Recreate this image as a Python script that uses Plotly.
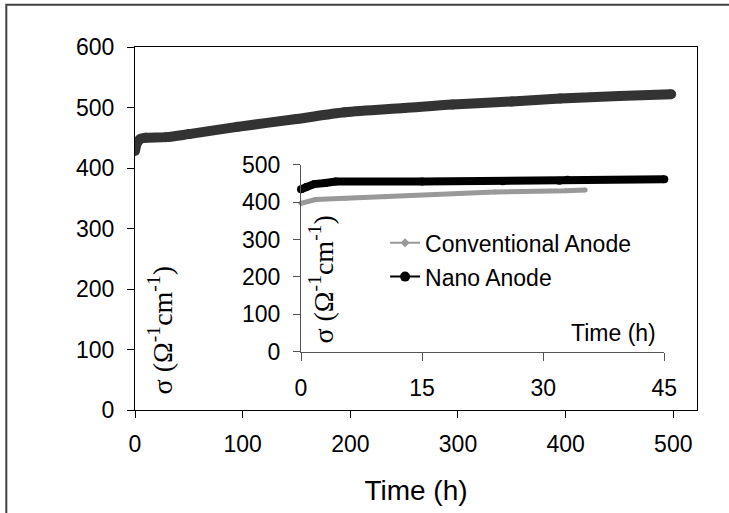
import plotly.graph_objects as go

# curva principal (0-500 h)
tempo = [0, 2, 5, 10, 29, 50, 95, 150, 195, 250, 295, 350, 395, 450, 498]
sigma = [428, 442, 448, 450, 451, 456, 468, 481, 492, 499, 505, 510, 515, 519, 522]

# detalhe (0-45 h)
tempo_conv = [0, 1.8, 5.5, 10.4, 16.6, 24, 32.8, 35.2]
sigma_conv = [397, 407, 410, 414, 421, 427, 430, 432]
tempo_nano = [0, 0.7, 1.6, 3, 4.3, 15, 25, 32, 33, 45]
sigma_nano = [434, 441, 448, 451, 455, 455, 456, 457, 460, 461]

nomes = ['Conventional Anode', 'Nano Anode']
ticks_main_x = [0, 100, 200, 300, 400, 500]
ticks_main_y = [0, 100, 200, 300, 400, 500, 600]
ticks_inset_x = [0, 15, 30, 45]
ticks_inset_y = [0, 100, 200, 300, 400, 500]

fonte = 'Liberation Sans'
serif = 'Liberation Serif'
titulo_y = 'σ (Ω<sup>-1</sup>cm<sup>-1</sup>)'

fig = go.Figure()

fig.add_scatter(x=tempo, y=sigma, mode='lines+markers', showlegend=False,
                line=dict(color='#333333', width=10, shape='spline', smoothing=0.8),
                marker=dict(color='#333333', size=10))

fig.add_scatter(x=tempo_conv, y=sigma_conv, mode='lines+markers', showlegend=False,
                xaxis='x2', yaxis='y2', cliponaxis=False,
                line=dict(color='#999999', width=5),
                marker=dict(color='#999999', size=5))
fig.add_scatter(x=tempo_nano, y=sigma_nano, mode='lines+markers', showlegend=False,
                xaxis='x2', yaxis='y2', cliponaxis=False,
                line=dict(color='#000000', width=8),
                marker=dict(color='#000000', size=8))

# entradas da legenda
fig.add_scatter(x=[None], y=[None], mode='lines+markers', name=nomes[0],
                xaxis='x2', yaxis='y2', legendgroup='a',
                line=dict(color='#999999', width=2),
                marker=dict(color='#999999', size=7, symbol='diamond'))
fig.add_scatter(x=[None], y=[None], mode='lines+markers', name=nomes[1],
                xaxis='x2', yaxis='y2', legendgroup='b',
                line=dict(color='#000000', width=2),
                marker=dict(color='#000000', size=10))

fig.update_layout(
    width=729, height=513,
    margin=dict(l=135, r=32, t=47, b=103),
    paper_bgcolor='white', plot_bgcolor='white',
    font=dict(family=fonte, size=23, color='black'),
    xaxis=dict(range=[0, 522], tickvals=ticks_main_x, showgrid=False, zeroline=False,
               showline=True, linecolor='black', linewidth=1, mirror=True,
               ticks='outside', ticklen=7, tickcolor='black', ticklabelstandoff=6,
               title=dict(text='Time (h)', standoff=24)),
    yaxis=dict(range=[0, 600], tickvals=ticks_main_y, showgrid=False, zeroline=False,
               showline=True, linecolor='black', linewidth=1, mirror=True,
               ticks='outside', ticklen=7, tickcolor='black', ticklabelstandoff=8),
    xaxis2=dict(domain=[0.2954, 0.9418], anchor='y2', range=[0, 45], tickvals=ticks_inset_x,
                showgrid=False, zeroline=False, showline=True, linecolor='#555555',
                ticks='outside', ticklen=8, tickcolor='#555555', ticklabelstandoff=8),
    yaxis2=dict(domain=[0.1606, 0.6758], anchor='x2', range=[0, 500], tickvals=ticks_inset_y,
                showgrid=False, zeroline=False, showline=True, linecolor='#555555',
                ticks='outside', ticklen=7, tickcolor='#555555', ticklabelstandoff=8),
    legend=dict(x=0.445, y=0.52, xanchor='left', yanchor='top', bgcolor='rgba(0,0,0,0)',
                tracegroupgap=1, font=dict(size=23)),
    showlegend=True,
)

fig.add_annotation(text=titulo_y, xref='paper', yref='paper', x=0.045, y=0.22,
                   xanchor='center', yanchor='middle',
                   textangle=-90, showarrow=False, font=dict(family=serif, size=28))
fig.add_annotation(text=titulo_y, xref='paper', yref='paper', x=0.3315, y=0.36,
                   xanchor='center', yanchor='middle',
                   textangle=-90, showarrow=False, font=dict(family=serif, size=28))
fig.add_annotation(text='Time (h)', xref='paper', yref='paper', x=0.851, y=0.212,
                   xanchor='center', yanchor='middle',
                   showarrow=False, font=dict(size=23))

# moldura externa
fig.add_shape(type='rect', xref='paper', yref='paper', x0=-0.229, x1=1.1, y0=-0.35, y1=1.1165,
              line=dict(color='#404040', width=2), layer='below')

fig.write_html('out.html', config={'displayModeBar': False},
               post_script="document.body.style.margin='0px';")
